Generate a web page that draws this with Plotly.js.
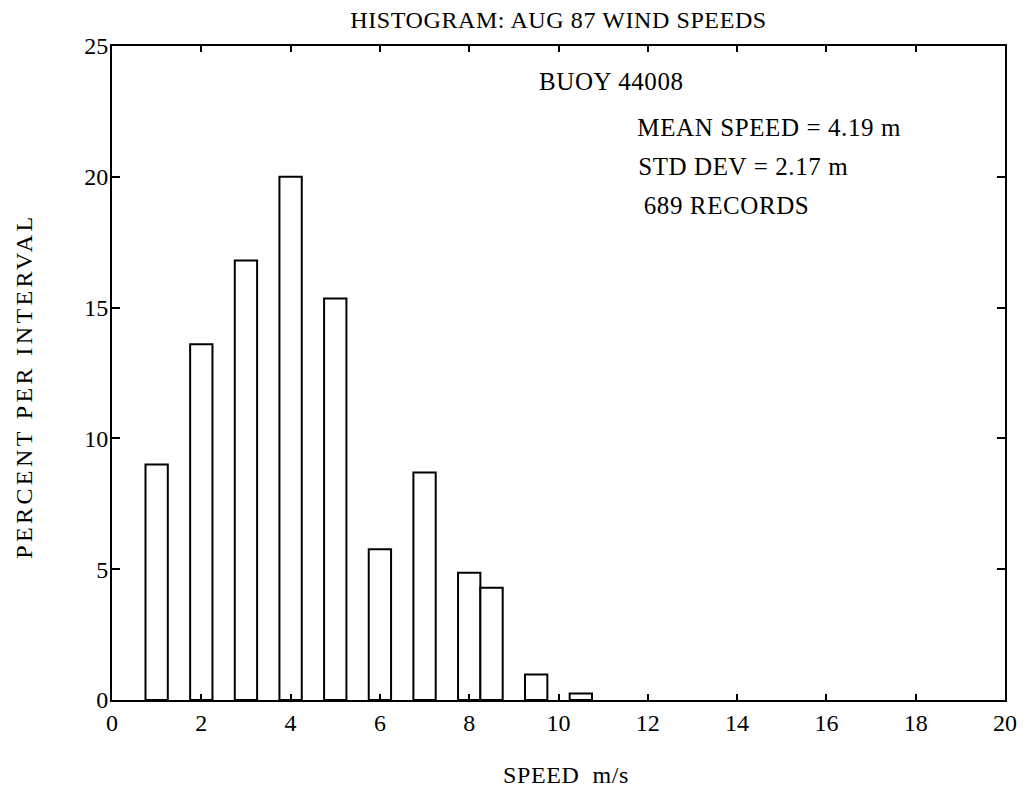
<!DOCTYPE html>
<html>
<head>
<meta charset="utf-8">
<script src="https://cdn.plot.ly/plotly-3.0.1.min.js"></script>
<style>
html,body{margin:0;padding:0;background:#fff;}
#chart{width:1034px;height:794px;}
#chart .gtitle, #chart .annotation-text{letter-spacing:0.6px;}
#chart .ylabel-ann .annotation-text{letter-spacing:3.4px;}
</style>
</head>
<body>
<div id="chart"></div>
<script>
// Bin centres (m/s) and percent per interval
const speedBins = [1, 2, 3, 4, 5, 6, 7, 8, 8.5, 9.5, 10.5];
const percentPerInterval = [9.0, 13.6, 16.8, 20.0, 15.35, 5.76, 8.7, 4.86, 4.29, 0.97, 0.25];
const xTicks = [0, 2, 4, 6, 8, 10, 12, 14, 16, 18, 20];
const yTicks = [0, 5, 10, 15, 20, 25];
const titleText = "HISTOGRAM: AUG 87 WIND SPEEDS";
const xLabel = "SPEED  m/s";
const yLabel = "PERCENT PER INTERVAL";
const infoLines = ["BUOY 44008", "MEAN SPEED = 4.19 m", "STD DEV = 2.17 m", "689 RECORDS"];

const FONT = "Liberation Serif, Times New Roman, serif";

const trace = {
  type: "bar",
  x: speedBins,
  y: percentPerInterval,
  width: 0.5,
  marker: {color: "#ffffff", line: {color: "#000000", width: 2}},
  hoverinfo: "x+y"
};

const infoAnns = [
  {text: infoLines[0], x: 9.59, y: 23.65},
  {text: infoLines[1], x: 11.85, y: 21.9},
  {text: infoLines[2], x: 11.85, y: 20.4},
  {text: infoLines[3], x: 11.94, y: 18.9}
].map(a => Object.assign(a, {xref: "x", yref: "y", xanchor: "left", yanchor: "middle",
  showarrow: false, font: {family: FONT, size: 25, color: "#000"}}));

const layout = {
  width: 1034,
  height: 794,
  margin: {l: 112, r: 29, t: 46, b: 94},
  paper_bgcolor: "#ffffff",
  plot_bgcolor: "#ffffff",
  showlegend: false,
  font: {family: FONT, color: "#000000", size: 24},
  title: {
    text: titleText,
    font: {family: FONT, size: 24, color: "#000"},
    x: 0.5, xanchor: "center", y: 0.975, yanchor: "middle", xref: "paper"
  },
  xaxis: {
    range: [0, 20],
    tickvals: xTicks,
    ticktext: xTicks.map(String),
    ticks: "inside", ticklen: 6, tickwidth: 2, tickcolor: "#000",
    showline: true, linecolor: "#000", linewidth: 2, mirror: "ticks",
    showgrid: false, zeroline: false,
    tickfont: {family: FONT, size: 24}
  },
  yaxis: {
    range: [0, 25],
    tickvals: yTicks,
    ticktext: yTicks.map(String),
    ticks: "inside", ticklen: 8, tickwidth: 2, tickcolor: "#000",
    showline: true, linecolor: "#000", linewidth: 2, mirror: "ticks",
    showgrid: false, zeroline: false,
    ticklabelstandoff: -3,
    tickfont: {family: FONT, size: 24}
  },
  annotations: infoAnns.concat([
    {text: xLabel, xref: "paper", yref: "paper", x: 0.508, y: -0.115, xanchor: "center", yanchor: "middle",
     showarrow: false, font: {family: FONT, size: 24, color: "#000"}},
    {text: yLabel, xref: "paper", yref: "paper", x: -0.0985, y: 0.479, xanchor: "center", yanchor: "middle",
     textangle: -90, showarrow: false, font: {family: FONT, size: 24, color: "#000"}}
  ])
};

Plotly.newPlot("chart", [trace], layout, {displayModeBar: false, staticPlot: true}).then(function(gd){
  const anns = gd.querySelectorAll(".annotation");
  if (anns.length) anns[anns.length - 1].classList.add("ylabel-ann");
});
</script>
</body>
</html>
